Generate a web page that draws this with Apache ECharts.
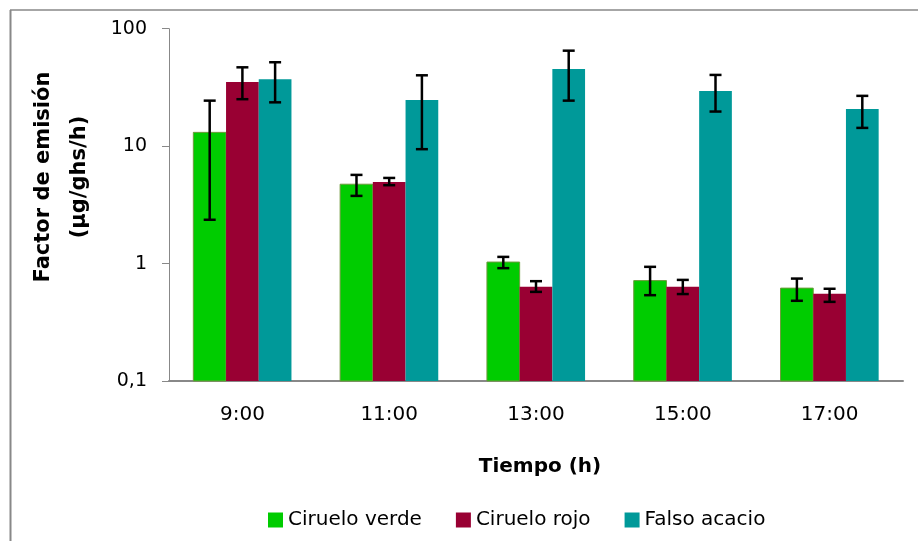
<!DOCTYPE html>
<html><head><meta charset="utf-8">
<script src="https://cdn.jsdelivr.net/npm/echarts@6/dist/echarts.min.js"></script>
<style>html,body{margin:0;padding:0;background:#fff}#c{width:918px;height:541px}</style>
</head><body><div id="c"></div>
<script>
const categories = ['9:00', '11:00', '13:00', '15:00', '17:00'];
const seriesNames = ['Ciruelo verde', 'Ciruelo rojo', 'Falso acacio'];
const ciruelo_verde      = [13.1, 4.74, 1.03, 0.716, 0.618];
const ciruelo_verde_low  = [2.36, 3.77, 0.914, 0.538, 0.482];
const ciruelo_verde_high = [24.4, 5.69, 1.14, 0.938, 0.745];
const ciruelo_rojo       = [35.2, 4.96, 0.634, 0.634, 0.552];
const ciruelo_rojo_low   = [25.1, 4.65, 0.574, 0.550, 0.472];
const ciruelo_rojo_high  = [46.9, 5.36, 0.708, 0.726, 0.610];
const falso_acacio       = [37.1, 24.7, 45.4, 29.5, 20.7];
const falso_acacio_low   = [23.6, 9.42, 24.4, 19.7, 14.3];
const falso_acacio_high  = [51.8, 40.1, 65.0, 40.4, 26.8];
const yTickValues = [0.1, 1, 10, 100];
const yTickLabels = ['0,1', '1', '10', '100'];

const colors = ['#00CC00', '#990033', '#009999'];
const borders = ['#6E9A3C', null, null];
const values = [ciruelo_verde, ciruelo_rojo, falso_acacio];
const lows = [ciruelo_verde_low, ciruelo_rojo_low, falso_acacio_low];
const highs = [ciruelo_verde_high, ciruelo_rojo_high, falso_acacio_high];

function makeRender(k) {
  return function (params, api) {
    const i = api.value(0);
    const v = api.value(1), lo = api.value(2), hi = api.value(3);
    const band = api.coord([1, 1])[0] - api.coord([0, 1])[0];
    const bw = band * 0.2228;
    const p = api.coord([i, v]);
    const cx = p[0] + (k - 1) * bw;
    const yTop = p[1];
    const yBase = api.coord([i, yTickValues[0]])[1];
    const yLo = api.coord([i, lo])[1], yHi = api.coord([i, hi])[1];
    const cap = 6;
    const es = { stroke: '#000', lineWidth: 2.5 };
    return {
      type: 'group', children: [
        { type: 'rect', shape: { x: cx - bw / 2, y: yTop, width: bw, height: yBase - yTop },
          style: { fill: colors[k], stroke: borders[k] || null, lineWidth: borders[k] ? 1 : 0 } },
        { type: 'line', shape: { x1: cx, y1: yHi, x2: cx, y2: yLo }, style: es },
        { type: 'line', shape: { x1: cx - cap, y1: yHi, x2: cx + cap, y2: yHi }, style: es },
        { type: 'line', shape: { x1: cx - cap, y1: yLo, x2: cx + cap, y2: yLo }, style: es }
      ]
    };
  };
}

const chart = echarts.init(document.getElementById('c'), null, { renderer: 'canvas' });
const fontFam = 'DejaVu Sans';
chart.setOption({
  animation: false,
  backgroundColor: '#fff',
  textStyle: { fontFamily: fontFam, color: '#000' },
  grid: { left: 169, right: 15, top: 28.7, bottom: 160 },
  legend: {
    data: seriesNames, left: 263, top: 505, itemWidth: 15, itemHeight: 15, itemGap: 34,
    icon: 'rect',
    textStyle: { fontFamily: fontFam, fontSize: 20, color: '#000' }
  },
  xAxis: {
    type: 'category', data: categories,
    axisLine: { lineStyle: { color: '#888', width: 2 } },
    axisTick: { show: false },
    axisLabel: { fontSize: 20, color: '#000', margin: 24, fontFamily: fontFam },
    name: 'Tiempo (h)', nameLocation: 'middle', nameGap: 76,
    nameTextStyle: { fontSize: 20, fontWeight: 'bold', color: '#000', fontFamily: fontFam, padding: [0, 0, 0, 8] }
  },
  yAxis: {
    type: 'log', logBase: 10, min: 0.1, max: 100,
    axisLine: { show: true, lineStyle: { color: '#888', width: 1 } },
    axisTick: { show: true, inside: false, length: 7, lineStyle: { color: '#888' } },
    splitLine: { show: false },
    axisLabel: {
      fontSize: 19, color: '#000', margin: 22, fontFamily: fontFam,
      formatter: function (v) {
        const idx = yTickValues.findIndex(t => Math.abs(t - v) / t < 1e-6);
        return idx >= 0 ? yTickLabels[idx] : '';
      }
    }
  },
  graphic: [
    { type: 'line', shape: { x1: 10, y1: 10, x2: 918, y2: 10 }, style: { stroke: '#888', lineWidth: 1.5 } },
    { type: 'line', shape: { x1: 10.5, y1: 10, x2: 10.5, y2: 541 }, style: { stroke: '#888', lineWidth: 2 } },
    { type: 'text', x: 62, y: 177, rotation: Math.PI / 2,
      style: { text: 'Factor de emisión\n(µg/ghs/h)', font: 'bold 21px "DejaVu Sans"', fill: '#000',
               textAlign: 'center', textVerticalAlign: 'middle', lineHeight: 36 } }
  ],
  series: seriesNames.map((name, k) => ({
    name: name, type: 'custom',
    itemStyle: { color: colors[k] },
    renderItem: makeRender(k),
    encode: { x: 0, y: [1, 2, 3] },
    data: categories.map((c, i) => [i, values[k][i], lows[k][i], highs[k][i]])
  }))
});
</script></body></html>
